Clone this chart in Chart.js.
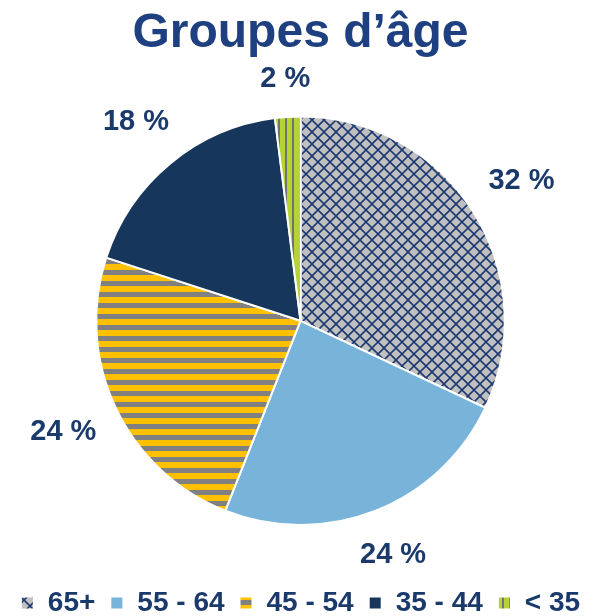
<!DOCTYPE html>
<html>
<head>
<meta charset="utf-8">
<title>Groupes d’âge</title>
<script src="https://cdn.jsdelivr.net/npm/chart.js@4"></script>
<style>
  html, body { margin: 0; padding: 0; background: #ffffff; }
  canvas { display: block; }
</style>
</head>
<body>
<canvas id="graficoEdad" width="613" height="616"></canvas>
<script>
const categories = ['65+', '55 - 64', '45 - 54', '35 - 44', '< 35'];
const shares = [32, 24, 24, 18, 2];

const titleColor = '#1e3f80'
const textColor = '#1b3a6c'

// small tiles used as fills
const makePattern = (w, h, draw) => {
    let c = document.createElement('canvas')
    c.width = w
    c.height = h
    let g = c.getContext('2d')
    draw(g, w, h)
    return g.createPattern(c, 'repeat')
}

const lattice = makePattern(12, 12, (g, w, h) => {
    g.fillStyle = '#c0c0c0'
    g.fillRect(0, 0, w, h)
    g.strokeStyle = '#1f3a70'
    g.lineWidth = 1.6
    g.beginPath()
    g.moveTo(-2, -2); g.lineTo(w + 2, h + 2)
    g.moveTo(w + 2, -2); g.lineTo(-2, h + 2)
    g.stroke()
})

const hStripes = makePattern(1, 11, (g, w, h) => {
    g.fillStyle = '#ffc000'
    g.fillRect(0, 0, w, 6)
    g.fillStyle = '#808080'
    g.fillRect(0, 6, w, 5)
})

const vStripes = makePattern(7, 1, (g, w, h) => {
    g.fillStyle = '#b5d334'
    g.fillRect(0, 0, 5, h)
    g.fillStyle = '#737373'
    g.fillRect(5, 0, 2, h)
})

const outsideLabels = {
    id: 'outsideLabels',
    afterDatasetsDraw(chart) {
        let ctx = chart.ctx
        let meta = chart.getDatasetMeta(0)
        ctx.save()
        ctx.font = 'bold 29px "Liberation Sans", Arial, sans-serif'
        ctx.fillStyle = textColor
        ctx.textAlign = 'center'
        ctx.textBaseline = 'middle'
        meta.data.forEach((arc, i) => {
            let p = arc.getProps(['x', 'y', 'startAngle', 'endAngle', 'outerRadius'], true)
            let mid = (p.startAngle + p.endAngle) / 2
            let dx = Math.cos(mid), dy = Math.sin(mid)
            let text = shares[i] + ' %'
            let w = ctx.measureText(text).width
            let ext = Math.abs(dx) * w / 2 + Math.abs(dy) * 14
            let r = p.outerRadius + 22 + ext
            ctx.fillText(text, p.x + dx * r, p.y + dy * r)
        })
        ctx.restore()
    }
}

Chart.defaults.font.family = '"Liberation Sans", Arial, sans-serif'

new Chart(document.getElementById('graficoEdad'), {
    type: 'pie',
    data: {
        labels: categories,
        datasets: [
            {
                data: shares,
                backgroundColor: [lattice, '#78b4d9', hStripes, '#16365c', vStripes],
                borderColor: '#ffffff',
                borderWidth: 2
            }
        ]
    },
    plugins: [outsideLabels],
    options: {
        responsive: false,
        animation: false,
        radius: '81%',
        layout: {
            padding: { left: 0, right: 12, top: 0, bottom: 0 }
        },
        plugins: {
            title: {
                display: true,
                text: 'Groupes d’âge',
                color: titleColor,
                font: { size: 48, weight: 'bold' },
                padding: { top: 5, bottom: 5 }
            },
            legend: {
                position: 'bottom',
                maxHeight: 42,
                labels: {
                    color: textColor,
                    font: { size: 28, weight: 'bold' },
                    boxWidth: 13,
                    boxHeight: 13,
                    padding: 15
                }
            },
            tooltip: { enabled: false }
        }
    }
});
</script>
</body>
</html>
